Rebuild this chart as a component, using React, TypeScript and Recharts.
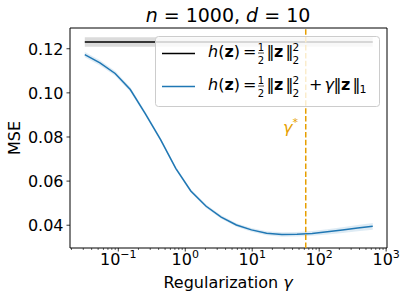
import React from "react";
import {
  ComposedChart,
  Line,
  Area,
  XAxis,
  YAxis,
  ReferenceLine,
  ReferenceArea,
} from "recharts";

// regularization strengths (log spaced) and mean squared errors
const gammas = [
  0.0316, 0.0532, 0.0897, 0.151, 0.254, 0.428, 0.721, 1.21, 2.05, 3.44, 5.8,
  9.75, 16.4, 27.7, 46.6, 78.5, 132, 222, 375, 631,
];
const mseLasso = [
  0.1173, 0.1136, 0.1088, 0.1015, 0.0905, 0.0788, 0.0658, 0.0555, 0.0486,
  0.0437, 0.0401, 0.0379, 0.0364, 0.0358, 0.0359, 0.0363, 0.037, 0.0378,
  0.0387, 0.0395,
];
const mseLassoSpread = [
  0.0012, 0.0012, 0.0011, 0.001, 0.0009, 0.0008, 0.0008, 0.0008, 0.0008,
  0.0008, 0.0008, 0.0008, 0.0009, 0.001, 0.001, 0.0011, 0.0012, 0.0013,
  0.0014, 0.0015,
];
const mseRidge = 0.12305;
const mseRidgeSpread = 0.0022;
const gammaStar = 63;

const xMajorTicks = [0.1, 1, 10, 100, 1000];
const xMajorExponents = ["\u22121", "0", "1", "2", "3"];
const xMinorTicks = [
  0.02, 0.03, 0.04, 0.05, 0.06, 0.07, 0.08, 0.09, 0.2, 0.3, 0.4, 0.5, 0.6,
  0.7, 0.8, 0.9, 2, 3, 4, 5, 6, 7, 8, 9, 20, 30, 40, 50, 60, 70, 80, 90, 200,
  300, 400, 500, 600, 700, 800, 900,
];
const yTicks = [0.04, 0.06, 0.08, 0.1, 0.12];
const xDomain: [number, number] = [0.019, 1030];
const yDomain: [number, number] = [0.02968, 0.1294];

const BLUE = "#1f77b4";
const ORANGE = "#E69F00";
const FONT = "DejaVu Sans";

const data = gammas.map((g, i) => ({
  g,
  lasso: mseLasso[i],
  lassoBand: [mseLasso[i] - mseLassoSpread[i], mseLasso[i] + mseLassoSpread[i]],
  ridge: mseRidge,
  ridgeBand: [mseRidge - mseRidgeSpread, mseRidge + mseRidgeSpread],
}));

const XTick = (props: any) => {
  const { x, y, payload } = props;
  const idx = xMajorTicks.findIndex((t) => Math.abs(t - payload.value) < 1e-9);
  if (idx < 0) {
    return <line x1={x} x2={x} y1={y} y2={y + 2} stroke="#000" strokeWidth={0.6} />;
  }
  return (
    <g>
      <line x1={x} x2={x} y1={y} y2={y + 3.5} stroke="#000" strokeWidth={0.8} />
      <text x={x} y={y + 17} textAnchor="middle" fontSize={16} fill="#000" fontFamily={FONT}>
        10
        <tspan dy={-7} fontSize={11}>
          {xMajorExponents[idx]}
        </tspan>
      </text>
    </g>
  );
};

const YTick = (props: any) => {
  const { x, y, payload } = props;
  return (
    <g>
      <line x1={x - 3.5} x2={x} y1={y} y2={y} stroke="#000" strokeWidth={0.8} />
      <text x={x - 6.5} y={y + 5.8} textAnchor="end" fontSize={16} fill="#000" fontFamily={FONT}>
        {payload.value.toFixed(2)}
      </text>
    </g>
  );
};

// h(z) = 1/2 ||z||_2^2 drawn piece by piece, like matplotlib mathtext
function Ridge({ b }: { b: number }) {
  return (
    <g>
      <text x={208} y={b} fontSize={16}>
        <tspan fontStyle="italic">h</tspan>(<tspan fontWeight="bold">z</tspan>)
      </text>
      <text x={243} y={b} fontSize={16}>=</text>
      <text x={261} y={b - 6} fontSize={10} textAnchor="middle">1</text>
      <line x1={258} x2={264} y1={b - 4} y2={b - 4} stroke="#000" strokeWidth={0.7} />
      <text x={261} y={b + 6.5} fontSize={10} textAnchor="middle">2</text>
      <text x={266.5} y={b} fontSize={16}>‖</text>
      <text x={274} y={b} fontSize={16} fontWeight="bold">z</text>
      <text x={285.5} y={b} fontSize={16}>‖</text>
      <text x={292.5} y={b - 6} fontSize={10.5}>2</text>
      <text x={292.5} y={b + 6.5} fontSize={10.5}>2</text>
    </g>
  );
}

// legend, title and annotation drawn on top of the chart
function Overlay() {
  const b1 = 57;
  const b2 = 90;
  return (
    <svg
      width={407}
      height={299}
      style={{ position: "absolute", left: 0, top: 0, pointerEvents: "none" }}
      fontFamily={FONT}
    >
      <text x={228} y={22} textAnchor="middle" fontSize={19}>
        <tspan fontStyle="italic">n</tspan> = 1000, <tspan fontStyle="italic">d</tspan> = 10
      </text>
      <text x={283} y={133} fontSize={16} fill={ORANGE}>
        <tspan fontStyle="italic">γ</tspan>
        <tspan dy={-7} fontSize={11}>*</tspan>
      </text>

      <rect x={155.5} y={36.5} width={224} height={70} rx={3} fill="#fff" fillOpacity={0.8} stroke="#ccc" strokeWidth={1} />
      <line x1={162} x2={195} y1={53.5} y2={53.5} stroke="#000" strokeWidth={1.5} />
      <line x1={162} x2={195} y1={86.5} y2={86.5} stroke={BLUE} strokeWidth={1.5} />

      <Ridge b={b1} />
      <Ridge b={b2} />
      <text x={309} y={b2} fontSize={16}>+</text>
      <text x={324.5} y={b2} fontSize={16} fontStyle="italic">γ</text>
      <text x={333.5} y={b2} fontSize={16}>‖</text>
      <text x={341} y={b2} fontSize={16} fontWeight="bold">z</text>
      <text x={352.5} y={b2} fontSize={16}>‖</text>
      <text x={359.5} y={b2 + 3} fontSize={11}>1</text>
    </svg>
  );
}

export default function App() {
  return (
    <div style={{ position: "absolute", left: 0, top: 0, width: 407, height: 299, background: "#fff" }}>
      <ComposedChart
        width={407}
        height={299}
        data={data}
        margin={{ top: 28, right: 20, bottom: 0, left: 0 }}
        style={{ fontFamily: FONT }}
      >
        <XAxis
          dataKey="g"
          type="number"
          scale="log"
          domain={xDomain}
          allowDataOverflow
          ticks={[...xMajorTicks, ...xMinorTicks]}
          interval={0}
          tick={<XTick />}
          tickLine={false}
          axisLine={false}
          tickSize={0}
          tickMargin={0}
          height={51}
          label={() => (
            <text x={228} y={288} textAnchor="middle" fontSize={16} fill="#000" fontFamily={FONT}>
              Regularization <tspan fontStyle="italic">γ</tspan>
            </text>
          )}
        />
        <YAxis
          type="number"
          domain={yDomain}
          allowDataOverflow
          ticks={yTicks}
          interval={0}
          tick={<YTick />}
          tickLine={false}
          axisLine={false}
          tickSize={0}
          tickMargin={0}
          width={70}
          label={() => (
            <text
              x={14}
              y={138}
              transform="rotate(-90 14 138)"
              textAnchor="middle"
              dominantBaseline="central"
              fontSize={16}
              fill="#000"
              fontFamily={FONT}
            >
              MSE
            </text>
          )}
        />
        <Area
          dataKey="ridgeBand"
          type="linear"
          stroke="none"
          fill="#000"
          fillOpacity={0.14}
          isAnimationActive={false}
        />
        <Area
          dataKey="lassoBand"
          type="linear"
          stroke="none"
          fill={BLUE}
          fillOpacity={0.15}
          isAnimationActive={false}
        />
        <Line
          dataKey="ridge"
          type="linear"
          stroke="#000"
          strokeWidth={1.5}
          dot={false}
          isAnimationActive={false}
        />
        <Line
          dataKey="lasso"
          type="linear"
          stroke={BLUE}
          strokeWidth={1.5}
          dot={false}
          isAnimationActive={false}
        />
        <ReferenceLine x={gammaStar} stroke={ORANGE} strokeWidth={1.5} strokeDasharray="5.5 2.4" />
        <ReferenceArea
          x1={xDomain[0]}
          x2={xDomain[1]}
          y1={yDomain[0]}
          y2={yDomain[1]}
          fill="none"
          stroke="#000"
          strokeWidth={1}
          fillOpacity={0}
          strokeOpacity={1}
        />
      </ComposedChart>
      <Overlay />
    </div>
  );
}
